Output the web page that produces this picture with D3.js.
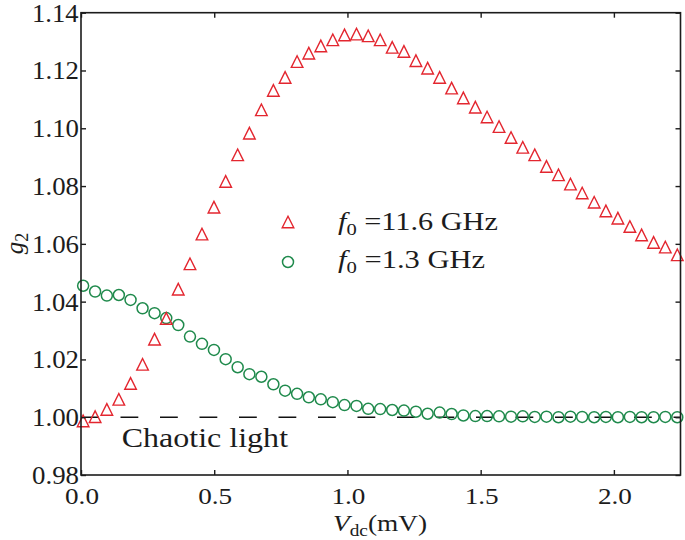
<!DOCTYPE html>
<html><head><meta charset="utf-8">
<script src="https://cdn.jsdelivr.net/npm/d3@7/dist/d3.min.js"></script>
<style>
body{margin:0;background:#fff}
svg{display:block}
</style>
</head><body>
<svg id="chart" width="685" height="540"></svg>
<script>
// ---------- data ----------
const vdc = [0.008,0.053,0.097,0.142,0.186,0.231,0.276,0.320,0.365,0.409,
  0.454,0.499,0.543,0.588,0.632,0.677,0.722,0.766,0.811,0.855,
  0.900,0.945,0.989,1.034,1.078,1.123,1.168,1.212,1.257,1.301,
  1.346,1.391,1.435,1.480,1.524,1.569,1.614,1.658,1.703,1.747,
  1.792,1.837,1.881,1.926,1.970,2.015,2.060,2.104,2.149,2.193,2.238];
const g2High = [0.9987,1.0002,1.0027,1.0062,1.0117,1.0183,1.0270,1.0342,1.0443,1.0531,
  1.0634,1.0727,1.0816,1.0908,1.0983,1.1064,1.1131,1.1176,1.1231,1.1260,
  1.1285,1.1306,1.1323,1.1326,1.1320,1.1306,1.1280,1.1266,1.1234,1.1208,
  1.1176,1.1139,1.1105,1.1073,1.1039,1.1006,1.0968,1.0934,1.0908,1.0868,
  1.0839,1.0807,1.0776,1.0744,1.0714,1.0689,1.0660,1.0631,1.0605,1.0589,1.0562];
const g2Low = [1.0455,1.0435,1.0421,1.0423,1.0406,1.0377,1.0360,1.0343,1.0319,1.0279,
  1.0254,1.0233,1.0201,1.0173,1.0149,1.0140,1.0114,1.0092,1.0081,1.0069,
  1.0062,1.0052,1.0042,1.0039,1.0029,1.0028,1.0025,1.0023,1.0019,1.0012,
  1.0016,1.0011,1.0006,1.0004,1.0004,1.0003,1.0002,1.0003,1.0001,1.0002,
  1.0000,1.0002,1.0001,1.0000,1.0001,1.0000,1.0001,1.0000,1.0000,1.0001,1.0000];
const chaoticLevel = 1.00;
const xTicks = [0.0,0.5,1.0,1.5,2.0];
const yTicks = [0.98,1.00,1.02,1.04,1.06,1.08,1.10,1.12,1.14];
const seriesFreq = ["11.6 GHz","1.3 GHz"];
const refLabel = "Chaotic light";

// ---------- setup ----------
const FONT = "'Liberation Serif', 'DejaVu Serif', serif";
const svg = d3.select("#chart").attr("font-family", FONT);
const L = 81, R = 680.5, T = 12.7, B = 475;
const x = d3.scaleLinear().domain([0, 2.25]).range([L, R]);
const y = d3.scaleLinear().domain([0.98, 1.14]).range([B, T]);
const RED = "#e3262f", GREEN = "#1f8a4c", INK = "#1c1c1c";

function txt(size) {
  return svg.append("text").attr("font-family", FONT).attr("font-size", size).attr("fill", INK);
}
// horizontally fit a text element to a target width
function fit(t, tx, ty, targetW, anchor) {
  const w = t.node().getBBox().width;
  const s = targetW / w;
  const x0 = anchor === "start" ? tx : anchor === "middle" ? tx - targetW / 2 : tx - targetW;
  t.attr("x", 0).attr("y", 0).attr("text-anchor", "start")
   .attr("transform", `translate(${x0},${ty}) scale(${s},1)`);
}

// ---------- reference dashed line ----------
svg.append("line")
  .attr("x1", x(0)).attr("x2", x(2.25))
  .attr("y1", y(chaoticLevel)).attr("y2", y(chaoticLevel))
  .attr("stroke", "#111").attr("stroke-width", 1.4)
  .attr("stroke-dasharray", "17.8,21.7");

// ---------- markers ----------
const tri = s => `M0,${-s}L${s},${s}L${-s},${s}Z`;
const pts = vdc.map((v, i) => ({v, hi: g2High[i], lo: g2Low[i]}));

svg.append("g").selectAll("circle").data(pts).join("circle")
  .attr("cx", d => x(d.v)).attr("cy", d => y(d.lo)).attr("r", 5.5)
  .attr("fill", "none").attr("stroke", GREEN).attr("stroke-width", 1.5);

svg.append("g").selectAll("path").data(pts).join("path")
  .attr("transform", d => `translate(${x(d.v)},${y(d.hi)})`)
  .attr("d", tri(5.8))
  .attr("fill", "none").attr("stroke", RED).attr("stroke-width", 1.4);

// ---------- axes (inward ticks on all sides) ----------
const tk = 5;
svg.append("g").attr("transform", `translate(0,${B})`)
  .call(d3.axisBottom(x).tickValues(xTicks).tickSizeInner(-tk).tickSizeOuter(0).tickFormat(""));
svg.append("g").attr("transform", `translate(0,${T})`)
  .call(d3.axisTop(x).tickValues(xTicks).tickSizeInner(-tk).tickSizeOuter(0).tickFormat(""));
svg.append("g").attr("transform", `translate(${L},0)`)
  .call(d3.axisLeft(y).tickValues(yTicks).tickSizeInner(-tk).tickSizeOuter(0).tickFormat(""));
svg.append("g").attr("transform", `translate(${R},0)`)
  .call(d3.axisRight(y).tickValues(yTicks).tickSizeInner(-tk).tickSizeOuter(0).tickFormat(""));
svg.selectAll(".domain").remove();
svg.selectAll(".tick line").attr("stroke", INK).attr("stroke-width", 1.4);

svg.append("rect").attr("x", L).attr("y", T).attr("width", R - L).attr("height", B - T)
  .attr("fill", "none").attr("stroke", INK).attr("stroke-width", 1.6);

// tick labels
xTicks.forEach(v => {
  const t = txt(24).text(d3.format(".1f")(v));
  fit(t, x(v) + 1, 504, 34, "middle");
});
yTicks.forEach(v => {
  const t = txt(25).text(d3.format(".2f")(v));
  fit(t, 79, y(v) + 9, 47, "end");
});

// axis titles
const xl = txt(24);
xl.append("tspan").attr("font-style", "italic").text("V");
xl.append("tspan").attr("font-size", 17).attr("dy", 4.5).text("dc");
xl.append("tspan").attr("dy", -4.5).text("(mV)");
fit(xl, 333, 531, 94, "start");

const yl = txt(25).attr("transform", "translate(22.5,243.5) rotate(-90)").attr("text-anchor", "middle");
yl.append("tspan").attr("font-style", "italic").text("g");
yl.append("tspan").attr("font-size", 18).attr("dy", 5).text("2");

// reference label
const cl = txt(28).text(refLabel);
fit(cl, 121.7, 446.7, 166.6, "start");

// ---------- legend ----------
svg.append("path").attr("transform", "translate(288,222)").attr("d", tri(5.8))
  .attr("fill", "none").attr("stroke", RED).attr("stroke-width", 1.4);
svg.append("circle").attr("cx", 288).attr("cy", 262).attr("r", 5.5)
  .attr("fill", "none").attr("stroke", GREEN).attr("stroke-width", 1.5);

const legY = [229.5, 267.5], legW = [160, 147];
seriesFreq.forEach((f, i) => {
  const t = txt(25);
  t.append("tspan").attr("font-style", "italic").text("f");
  t.append("tspan").attr("font-size", 17).attr("dy", 5).text("0");
  t.append("tspan").attr("dy", -5).text("\u00a0=" + f);
  fit(t, 338, legY[i], legW[i], "start");
});
</script>
</body></html>
